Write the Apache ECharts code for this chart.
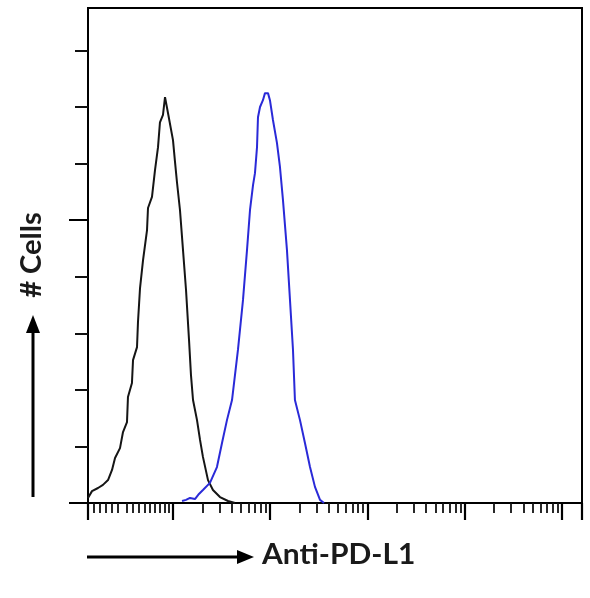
<!DOCTYPE html>
<html><head><meta charset="utf-8">
<script src="https://cdn.jsdelivr.net/npm/echarts@6/dist/echarts.min.js"></script>
<style>html,body{margin:0;padding:0;background:#fff}#c{width:590px;height:598px}</style>
</head><body><div id="c"></div>
<script>
// x values are log10 fluorescence (decades); y values are cell counts
const X_MIN = 0.126, X_MAX = 5.206;
const Y_MAX = 175;
const blackX = [0.126,0.167,0.229,0.280,0.332,0.373,0.404,0.455,0.486,0.527,0.537,0.578,0.589,0.630,0.640,0.661,0.692,0.733,0.743,0.784,0.815,0.846,0.866,0.897,0.918,0.949,0.969,1.000,1.021,1.041,1.072,1.103,1.134,1.165,1.185,1.206,1.247,1.278,1.308,1.360,1.411,1.483,1.566,1.638];
const blackY = [1.8,4.2,5.3,6.4,8.1,11.7,15.9,19.4,25.1,28.6,37.5,42.4,50.5,55.1,64.0,76.0,85.9,96.5,104.3,108.2,117.7,125.8,134.6,137.2,143.5,137.8,138.2,128.3,120.5,113.4,103.5,89.4,75.3,57.6,45.2,36.4,29.3,22.3,16.3,8.1,4.6,2.1,0.7,0];
const blueX = [1.093,1.134,1.175,1.226,1.267,1.308,1.380,1.452,1.504,1.555,1.607,1.668,1.720,1.761,1.792,1.823,1.843,1.864,1.874,1.895,1.925,1.946,1.977,1.997,2.028,2.069,2.100,2.131,2.172,2.203,2.234,2.254,2.306,2.357,2.409,2.460,2.512,2.553];
const blueY = [0.7,1.1,1.8,1.4,3.2,4.6,7.1,12.7,21.2,29.3,36.4,54.1,71.8,89.4,103.6,112.4,116.6,125.8,136.4,140.0,142.4,144.9,144.9,142.4,135.4,127.3,118.8,107.1,89.4,71.8,54.1,36.4,29.3,21.2,12.7,5.7,1.1,0];
const xMajorTicks = [0.126,1,2,3,4,5,5.206];
const xLowTicks = [0.188,0.249,0.311,0.373,0.434,0.527,0.589,0.650,0.712,0.763,0.815,0.866,0.918,0.959];
const xDecades = [1,2,3,4];
const xMultipliers = [2,3,4,5,6,7,8,9];
const yMinorTicks = [20,40,60,80,120,140,160];
const yMajorTicks = [0,100];
const xTitle = 'Anti-PD-L1';
const yTitle = '# Cells';

const xMinorTicks = xLowTicks.slice();
xDecades.forEach(d => xMultipliers.forEach(m => xMinorTicks.push(d + Math.log10(m))));
const pair = (xs, ys) => xs.map((x, i) => [x, ys[i]]);

const chart = echarts.init(document.getElementById('c'), null, {renderer: 'canvas'});
const baseX = {type: 'value', min: X_MIN, max: X_MAX, position: 'bottom', splitLine: {show: false}, axisLabel: {show: false}};
const baseY = {type: 'value', min: 0, max: Y_MAX, position: 'left', splitLine: {show: false}, axisLabel: {show: false}};
chart.setOption({
  animation: false,
  backgroundColor: '#fff',
  grid: {left: 88, top: 8, right: 8, bottom: 95, show: true, borderColor: '#000', borderWidth: 2, backgroundColor: 'transparent'},
  xAxis: [
    Object.assign({}, baseX, {axisLine: {show: true, lineStyle: {color: '#000', width: 2}},
      axisTick: {show: true, inside: false, length: 10, customValues: xMinorTicks, lineStyle: {color: '#111', width: 1.8}}}),
    Object.assign({}, baseX, {axisLine: {show: false},
      axisTick: {show: true, inside: false, length: 17, customValues: xMajorTicks, lineStyle: {color: '#000', width: 2.2}}})
  ],
  yAxis: [
    Object.assign({}, baseY, {axisLine: {show: true, lineStyle: {color: '#000', width: 2}},
      axisTick: {show: true, inside: false, length: 13, customValues: yMinorTicks, lineStyle: {color: '#111', width: 2}}}),
    Object.assign({}, baseY, {axisLine: {show: false},
      axisTick: {show: true, inside: false, length: 19, customValues: yMajorTicks, lineStyle: {color: '#000', width: 2}}})
  ],
  series: [
    {type: 'line', name: 'control', data: pair(blackX, blackY), xAxisIndex: 0, yAxisIndex: 0, symbol: 'none', lineStyle: {color: '#151515', width: 2}},
    {type: 'line', name: 'PD-L1', data: pair(blueX, blueY), xAxisIndex: 0, yAxisIndex: 0, symbol: 'none', lineStyle: {color: '#2a2ad8', width: 2}}
  ],
  graphic: [
    {type: 'line', shape: {x1: 87, y1: 557, x2: 240, y2: 557}, style: {stroke: '#000', lineWidth: 3}},
    {type: 'polygon', shape: {points: [[237, 550], [254, 557], [237, 564]]}, style: {fill: '#000'}},
    {type: 'text', x: 262, y: 555, scaleX: 1.07, style: {text: xTitle, font: 'bold 28px Lato', fill: '#1a1a1a', align: 'left', verticalAlign: 'middle'}},
    {type: 'line', shape: {x1: 33, y1: 497, x2: 33, y2: 330}, style: {stroke: '#000', lineWidth: 3}},
    {type: 'polygon', shape: {points: [[26, 333], [33, 315], [40, 333]]}, style: {fill: '#000'}},
    {type: 'text', x: 32, y: 255, rotation: Math.PI / 2, scaleX: 1.04, style: {text: yTitle, font: 'bold 28px Lato', fill: '#1a1a1a', align: 'center', verticalAlign: 'middle'}}
  ]
});
</script></body></html>
